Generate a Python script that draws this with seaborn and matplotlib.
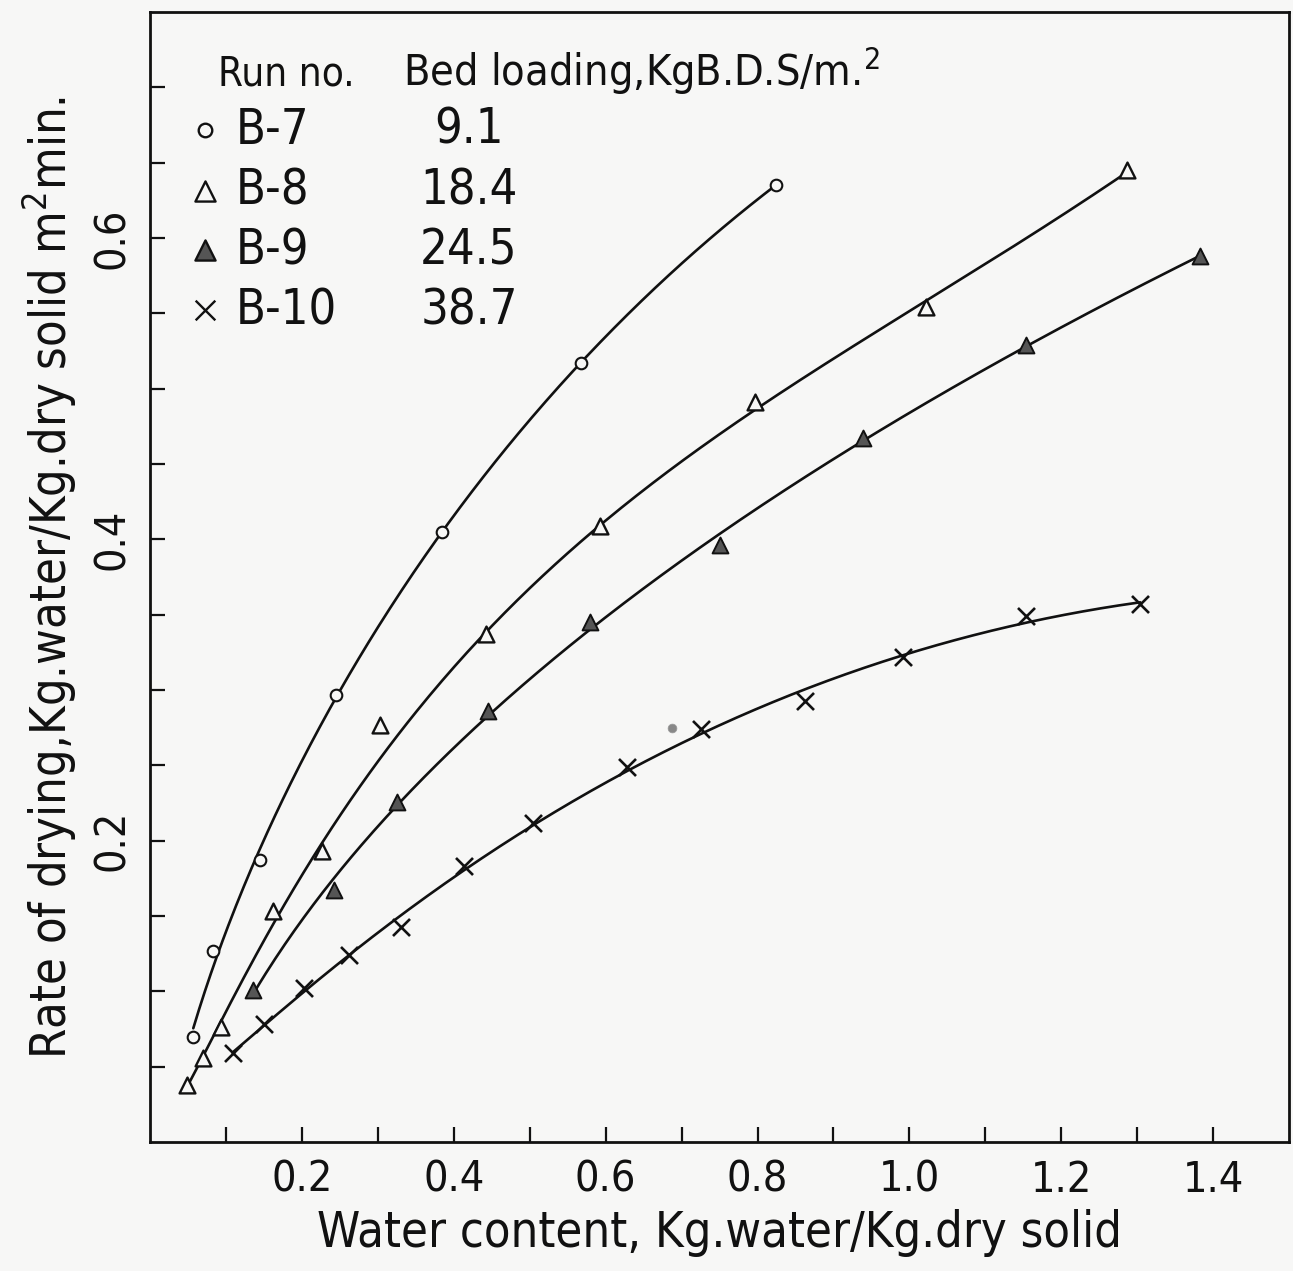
import numpy as np
import pandas as pd
import seaborn as sns
import matplotlib
matplotlib.use('Agg')
import matplotlib.pyplot as plt
from matplotlib import font_manager as fm

# data
b7_x = [0.057, 0.083, 0.145, 0.245, 0.384, 0.567, 0.824]
b7_y = [0.070, 0.127, 0.187, 0.297, 0.405, 0.517, 0.635]

b8_x = [0.049, 0.070, 0.093, 0.162, 0.226, 0.303, 0.443, 0.592, 0.797, 1.022, 1.287]
b8_y = [0.038, 0.056, 0.076, 0.153, 0.193, 0.277, 0.337, 0.409, 0.491, 0.554, 0.645]
# the hand-drawn curve skips the point at 0.303
b8_w = [1, 1, 1, 1, 1, 0, 1, 1, 1, 1, 1]

b9_x = [0.136, 0.242, 0.325, 0.445, 0.579, 0.751, 0.939, 1.154, 1.382]
b9_y = [0.101, 0.167, 0.226, 0.286, 0.345, 0.396, 0.467, 0.529, 0.588]

b10_x = [0.109, 0.150, 0.203, 0.262, 0.330, 0.414, 0.504, 0.628, 0.725, 0.863, 0.991, 1.154, 1.304]
b10_y = [0.059, 0.078, 0.102, 0.124, 0.143, 0.183, 0.212, 0.249, 0.274, 0.293, 0.322, 0.349, 0.357]

stray_x = [0.687]
stray_y = [0.275]

runs = ['B-7', 'B-8', 'B-9', 'B-10']
loadings = ['9.1', '18.4', '24.5', '38.7']

sns.set_theme(style='white')
plt.rcParams['font.family'] = ['DejaVu Sans']
narrow = [f for f in fm.fontManager.ttflist if f.name == 'DejaVu Sans' and f.stretch == 'condensed']
if narrow:
    plt.rcParams['font.stretch'] = 'condensed'
elif any(f.name == 'Liberation Sans Narrow' for f in fm.fontManager.ttflist):
    plt.rcParams['font.family'] = ['Liberation Sans Narrow', 'DejaVu Sans']
plt.rcParams['mathtext.fontset'] = 'custom'
plt.rcParams['mathtext.rm'] = plt.rcParams['font.family'][0]

INK = '#111111'
PAPER = '#f7f7f6'

fig = plt.figure(figsize=(12.93, 12.71), dpi=100, facecolor=PAPER)
ax = fig.add_axes([0.116, 0.1015, 0.881, 0.889], facecolor=PAPER)


def smooth(x, y, w=None, deg=3, n=300):
    # hand-drawn style curve: polynomial in sqrt(x), between first and last point
    x = np.asarray(x)
    y = np.asarray(y)
    c = np.polyfit(np.sqrt(x), y, deg, w=w)
    xs = np.linspace(x.min(), x.max(), n)
    return xs, np.polyval(c, np.sqrt(xs))


series = [(b7_x, b7_y, None, 3), (b8_x, b8_y, b8_w, 4),
          (b9_x, b9_y, None, 3), (b10_x, b10_y, None, 3)]
frames = []
for name, (x, y, w, deg) in zip(runs, series):
    xs, ys = smooth(x, y, w, deg)
    frames.append(pd.DataFrame({'x': xs, 'y': ys, 'run': name}))
curves = pd.concat(frames)

sns.lineplot(data=curves, x='x', y='y', units='run', estimator=None,
             color=INK, lw=1.9, ax=ax, legend=False, sort=False)

# markers
sns.scatterplot(x=b7_x, y=b7_y, marker='o', s=70, ax=ax, zorder=3)
ax.collections[-1].set_facecolor(PAPER)
ax.collections[-1].set_edgecolor(INK)
ax.collections[-1].set_linewidth(1.5)

sns.scatterplot(x=b8_x, y=b8_y, marker='^', s=130, ax=ax, zorder=3)
ax.collections[-1].set_facecolor(PAPER)
ax.collections[-1].set_edgecolor(INK)
ax.collections[-1].set_linewidth(1.7)

sns.scatterplot(x=b9_x, y=b9_y, marker='^', s=130, ax=ax, zorder=3)
ax.collections[-1].set_facecolor('#555555')
ax.collections[-1].set_edgecolor(INK)
ax.collections[-1].set_linewidth(1.4)

sns.scatterplot(x=b10_x, y=b10_y, marker='x', s=150, ax=ax, zorder=3)
ax.collections[-1].set_edgecolor(INK)
ax.collections[-1].set_facecolor(INK)
ax.collections[-1].set_linewidth(1.9)

sns.scatterplot(x=stray_x, y=stray_y, marker='o', s=40, ax=ax, zorder=3)
ax.collections[-1].set_facecolor('#888888')
ax.collections[-1].set_edgecolor('#999999')

ax.set_xlim(0, 1.5)
ax.set_ylim(0, 0.75)

xt = np.round(np.arange(0.1, 1.45, 0.1), 2)
ax.set_xticks(xt)
ax.set_xticklabels([f'{t:.1f}' if round(t * 10) % 2 == 0 else '' for t in xt])
yt = np.round(np.arange(0.05, 0.72, 0.05), 2)
ax.set_yticks(yt)
ax.set_yticklabels([f'{t:.1f}' if round(t * 100) % 20 == 0 else '' for t in yt],
                   rotation=90, va='center')

ax.tick_params(direction='in', length=11, width=1.6, color=INK,
               labelsize=31, labelcolor=INK, bottom=True, left=True)
ax.tick_params(axis='x', pad=12)
ax.tick_params(axis='y', pad=12)
for sp in ax.spines.values():
    sp.set_color(INK)
    sp.set_linewidth(2.0)

ax.set_xlabel('Water content, Kg.water/Kg.dry solid', fontsize=35, color=INK, labelpad=6)
ax.set_ylabel('Rate of drying,Kg.water/Kg.dry solid m$^2$min.', fontsize=35, color=INK)
ax.yaxis.set_label_coords(-0.062, 0.5)

# key table in the upper left corner
ax.text(0.06, 0.935, 'Run no.', transform=ax.transAxes, fontsize=29, color=INK, va='baseline')
ax.text(0.222, 0.935, 'Bed loading,KgB.D.S/m.$^2$', transform=ax.transAxes,
        fontsize=31, color=INK, va='baseline')
row_y = [0.896, 0.842, 0.789, 0.736]
key_style = [('o', PAPER, 95), ('^', PAPER, 210), ('^', '#555555', 210), ('x', INK, 200)]
for ry, name, load, (mk, fc, sz) in zip(row_y, runs, loadings, key_style):
    ax.scatter([0.048], [ry], marker=mk, s=sz, facecolor=fc, edgecolor=INK,
               linewidth=1.7, transform=ax.transAxes, clip_on=False)
    ax.text(0.075, ry, name, transform=ax.transAxes, fontsize=35, color=INK, va='center')
    ax.text(0.28, ry, load, transform=ax.transAxes, fontsize=35, color=INK,
            va='center', ha='center')

fig.savefig('out.png', dpi=100, facecolor=PAPER)
